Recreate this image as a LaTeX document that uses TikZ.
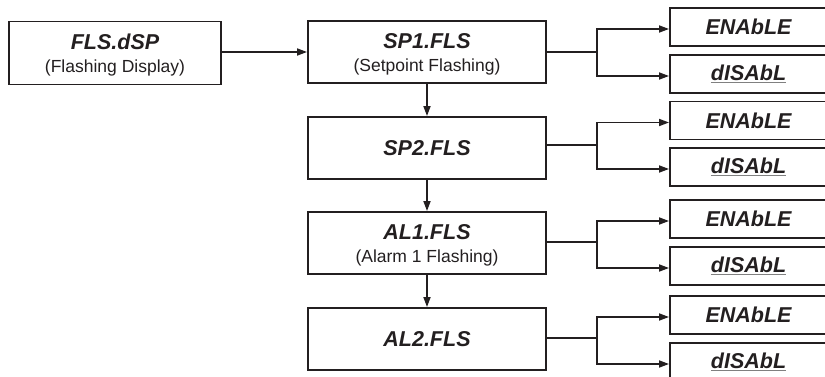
\documentclass[tikz,border=0pt]{standalone}
\usepackage{fontspec}
\setmainfont{Liberation Sans}
\usetikzlibrary{arrows.meta}
\definecolor{ink}{HTML}{231F20}
\newcommand{\subline}[1]{{\fontsize{17.5}{20}\selectfont\mdseries\upshape #1}}
\newcommand{\ulword}[1]{\textcolor{gray}{\underline{\textcolor{ink}{#1}}}}
\newcommand{\topstrut}{\rule{0pt}{19pt}}
\tikzset{
  mainbox/.style={draw=ink, line width=1.9pt, minimum width=238pt, minimum height=62pt,
    inner sep=0pt, align=center, text=ink,
    font=\fontsize{21.5}{22}\selectfont\bfseries\itshape},
  optbox/.style={draw=ink, line width=1.9pt, minimum width=157pt, minimum height=38pt,
    inner sep=0pt, text=ink, font=\fontsize{21.5}{22}\selectfont\bfseries\itshape},
  link/.style={draw=ink, line width=1.7pt},
  arr/.style={link, -{Triangle[length=10pt,width=7pt]}}
}
\begin{document}
\begin{tikzpicture}[x=1pt,y=-1pt]
\useasboundingbox (0,0) rectangle (825,377);
\clip (0,0) rectangle (825,377);

\node[mainbox, minimum width=212pt, minimum height=63pt] (fls) at (115,53) {\topstrut FLS.dSP\\[1pt]\subline{(Flashing Display)}};
\node[mainbox] (sp1) at (427,52) {\topstrut SP1.FLS\\[1pt]\subline{(Setpoint Flashing)}};
\node[mainbox] (sp2) at (427,148) {SP2.FLS};
\node[mainbox] (al1) at (427,243) {\topstrut AL1.FLS\\[1pt]\subline{(Alarm 1 Flashing)}};
\node[mainbox] (al2) at (427,339) {AL2.FLS};

\node[optbox] (e1) at (748.5,27) {ENAbLE};
\node[optbox] (d1) at (748.5,74) {\ulword{dISAbL}};
\node[optbox] (e2) at (748.5,120.5) {ENAbLE};
\node[optbox] (d2) at (748.5,167) {\ulword{dISAbL}};
\node[optbox] (e3) at (748.5,219) {ENAbLE};
\node[optbox] (d3) at (748.5,266) {\ulword{dISAbL}};
\node[optbox] (e4) at (748.5,315) {ENAbLE};
\node[optbox] (d4) at (748.5,362) {\ulword{dISAbL}};

\draw[arr] (fls.east |- sp1.west) -- (sp1.west);
\draw[arr] (sp1.south) -- (sp2.north);
\draw[arr] (sp2.south) -- (al1.north);
\draw[arr] (al1.south) -- (al2.north);

\coordinate (j1) at (597,52);
\coordinate (j2) at (597,145);
\coordinate (j3) at (597,242);
\coordinate (j4) at (597,338);
\draw[link] (sp1.east) -- (j1);
\draw[link] (sp2.east |- j2) -- (j2);
\draw[link] (al1.east |- j3) -- (j3);
\draw[link] (al2.east |- j4) -- (j4);
\foreach \j/\e/\d in {j1/e1/d1, j2/e2/d2, j3/e3/d3, j4/e4/d4}{
  \draw[arr] (\j) |- ([yshift=-2pt]\e.west);
  \draw[arr] (\j) |- ([yshift=-2pt]\d.west);
}
\end{tikzpicture}
\end{document}
